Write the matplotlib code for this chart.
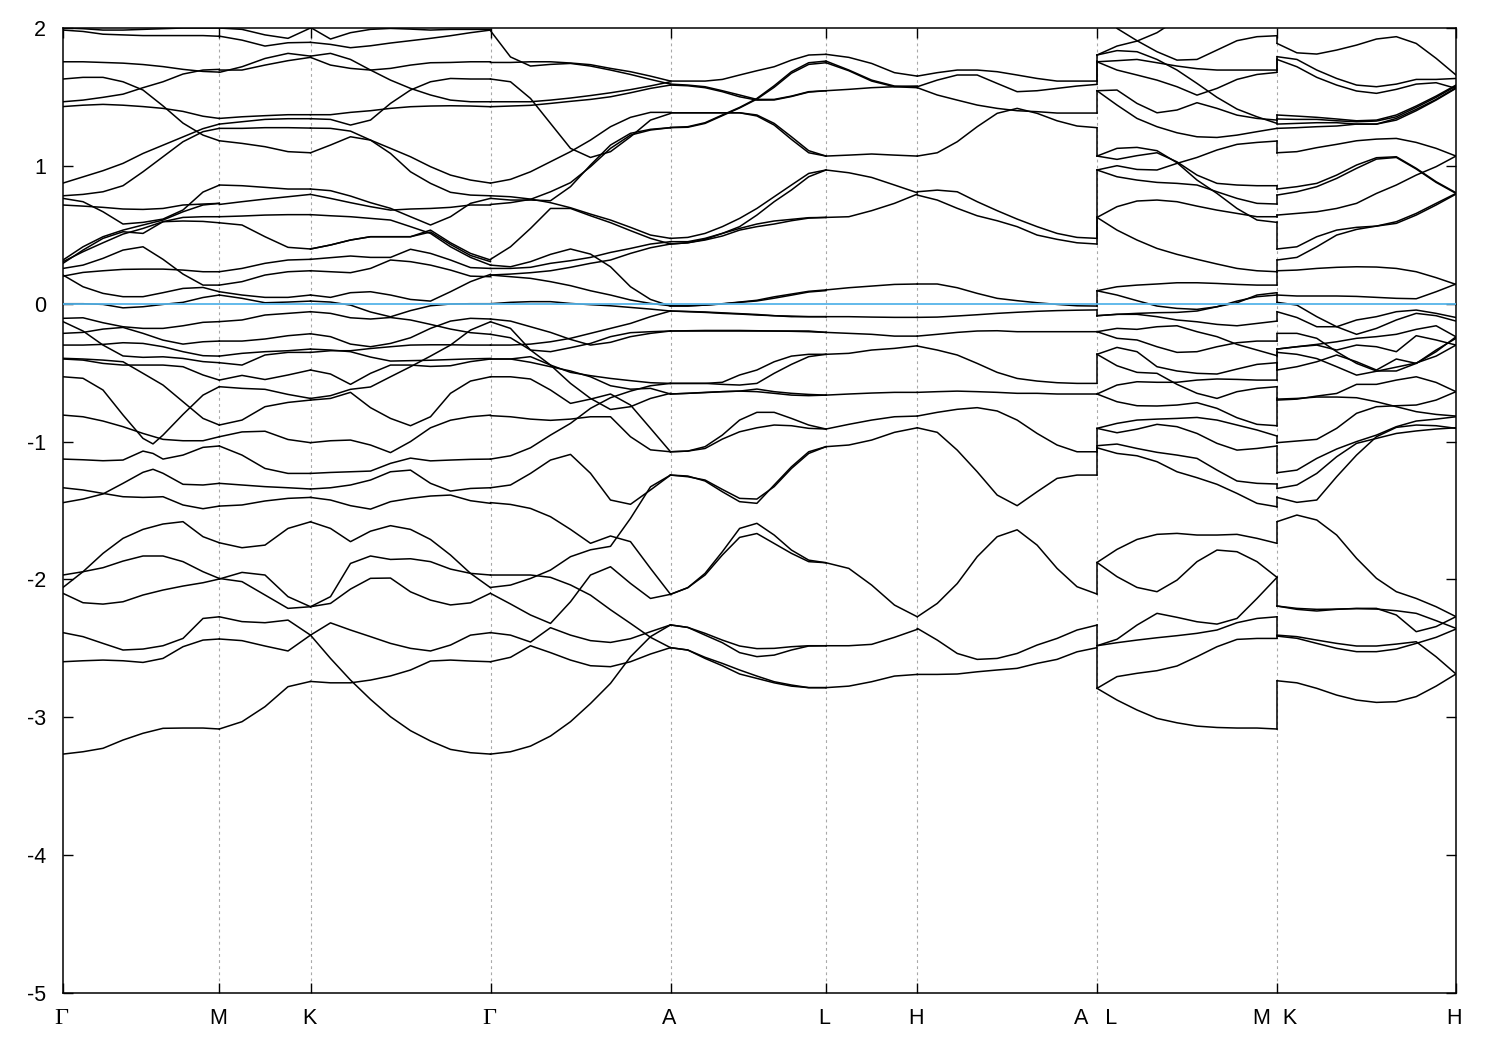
import numpy as np
import matplotlib
matplotlib.use("Agg")
import matplotlib.pyplot as plt
from matplotlib.transforms import ScaledTranslation

nan = float("nan")

TICK_K = [0, 156.3, 247.5, 427.5, 607.5, 763, 854.3, 1034, 1214, 1393]
TICK_LABELS = ["Γ", "M", "K", "Γ", "A", "L", "H", "A   L", "M  K", "H"]
Y_TICKS = [-5, -4, -3, -2, -1, 0, 1, 2]

K_GM = [0, 20, 40, 60, 80, 100, 120, 140, 156.3]
K_GM_FINE = [0, 20, 40, 60, 80, 90, 100, 120, 140, 156.3]
K_MK = [156.3, 179, 202, 225, 247.5]
K_KG = np.linspace(247.5, 427.5, 10)
K_GA = np.linspace(427.5, 607.5, 10)
K_AL = np.linspace(607.5, 763, 10)
K_LH = np.linspace(763, 854.3, 5)
K_HA = np.linspace(854.3, 1034, 10)
K_LM = np.linspace(1034, 1214, 10)
K_KH = np.linspace(1214, 1393, 10)

BANDS_GM = [
 [1.985,1.975,1.955,1.95,1.945,1.945,1.945,1.945,1.94],
 [2.0,1.995,1.985,1.985,1.99,1.995,2.0,2.0,2.0],
 [1.755,1.755,1.75,1.745,1.735,1.72,1.70,1.685,1.68],
 [1.465,1.477,1.497,1.52,1.567,1.61,1.666,1.695,1.70],
 [1.63,1.642,1.642,1.61,1.55,1.435,1.31,1.223,1.182],
 [1.43,1.44,1.446,1.44,1.43,1.417,1.395,1.36,1.344],
 [.875,.92,.965,1.018,1.09,1.15,1.21,1.27,1.303],
 [.783,.793,.812,.856,.957,1.066,1.175,1.248,1.272],
 [.764,.74,.667,.578,.59,.614,.68,.81,.86],
 [.716,.708,.699,.687,.684,.691,.716,.723,.728],
 [.293,.389,.474,.522,.51,.595,.626,.631,.631],
 [.305,.377,.442,.505,.546,.595,.6,.597,.587],
 [.317,.413,.486,.534,.571,.607,.667,.716,.728],
 [.256,.28,.329,.389,.413,.322,.215,.135,.135],
 [.2,.227,.239,.249,.251,.251,.244,.232,.232],
 [.208,.123,.075,.051,.051,.08,.111,.118,.087],
 [0,0,-.005,-.03,-.022,-.005,.01,.045,.063],
 [-.106,-.102,-.138,-.167,-.179,-.179,-.16,-.135,-.13],
 [-.13,-.198,-.3,-.379,-.389,-.385,-.397,-.42,-.428],
 [-.215,-.208,-.184,-.172,-.215,-.264,-.293,-.276,-.271],
 [-.3,-.3,-.295,-.283,-.288,-.312,-.348,-.377,-.38],
 [-.401,-.409,-.433,-.445,-.445,-.445,-.457,-.517,-.554],
 [-.396,-.401,-.409,-.421,-.505,-.59,-.711,-.832,-.88],
 [-.808,-.82,-.851,-.892,-.941,-.984,-.994,-.994,-.965],
 [-2.058,-1.944,-1.811,-1.702,-1.637,-1.598,-1.581,-1.69,-1.734],
 [-1.968,-1.944,-1.915,-1.867,-1.83,-1.83,-1.871,-1.944,-1.993],
 [-2.101,-2.169,-2.179,-2.162,-2.113,-2.077,-2.048,-2.024,-1.997],
 [-2.386,-2.415,-2.464,-2.512,-2.505,-2.481,-2.428,-2.283,-2.271],
 [-2.597,-2.59,-2.585,-2.59,-2.602,-2.573,-2.488,-2.44,-2.432],
 [-3.267,-3.25,-3.225,-3.165,-3.116,-3.08,-3.078,-3.078,-3.085],
]
BANDS_GM_FINE = [
 [-.53,-.541,-.626,-.807,-.977,-1.017,-.953,-.803,-.663,-.602],
 [-1.127,-1.132,-1.139,-1.134,-1.069,-1.086,-1.127,-1.098,-1.042,-1.032],
 [-1.335,-1.351,-1.376,-1.4,-1.405,-1.403,-1.4,-1.46,-1.487,-1.468],
 [-1.443,-1.417,-1.38,-1.303,-1.223,-1.201,-1.23,-1.31,-1.315,-1.303],
]
BANDS_MK = [
 [2.0,1.99,1.95,1.925,2.0],
 [1.941,1.912,1.869,1.893,1.896],
 [1.678,1.719,1.779,1.816,1.796],
 [1.695,1.695,1.731,1.763,1.787],
 [1.182,1.163,1.139,1.103,1.095],
 [1.344,1.356,1.364,1.371,1.371],
 [1.303,1.32,1.337,1.342,1.342],
 [1.272,1.272,1.277,1.277,1.274],
 [.861,.856,.844,.832,.832],
 [.72,.74,.759,.776,.793],
 [.631,.636,.643,.646,.646],
 [.587,.571,.486,.409,.397],
 [.232,.256,.293,.317,.322],
 [.135,.16,.208,.232,.239],
 [.087,.063,.046,.046,.063],
 [.063,.039,.007,.012,.019],
 [-.13,-.118,-.082,-.07,-.058],
 [-.271,-.271,-.256,-.232,-.218],
 [-.38,-.36,-.348,-.341,-.329],
 [-.428,-.445,-.372,-.353,-.353],
 [-.554,-.52,-.55,-.517,-.481],
 [-.602,-.614,-.621,-.658,-.687],
 [-.88,-.844,-.747,-.716,-.699],
 [-.965,-.93,-.925,-.985,-1.008],
 [-1.032,-1.098,-1.195,-1.231,-1.231],
 [-1.468,-1.46,-1.431,-1.412,-1.405],
 [-1.303,-1.315,-1.327,-1.335,-1.344],
 [-1.734,-1.77,-1.751,-1.63,-1.582],
 [-1.993,-2.016,-2.113,-2.21,-2.198],
 [-1.997,-1.949,-1.968,-2.125,-2.198],
 [-2.271,-2.306,-2.314,-2.295,-2.404],
 [-2.432,-2.444,-2.483,-2.519,-2.404],
 [-3.085,-3.032,-2.923,-2.778,-2.74],
]
BANDS_KG = [
 [2.004,1.92,1.966,1.99,1.997,1.992,1.985,1.99,1.99,1.99],
 [1.896,1.881,1.857,1.871,1.891,1.908,1.925,1.944,1.966,1.985],
 [1.796,1.816,1.772,1.695,1.622,1.562,1.514,1.477,1.465,1.465],
 [1.787,1.731,1.707,1.695,1.707,1.731,1.748,1.75,1.755,1.755],
 [1.095,1.151,1.211,1.187,1.09,.957,.873,.808,.788,.783],
 [1.371,1.371,1.388,1.4,1.417,1.429,1.434,1.436,1.434,1.429],
 [1.342,1.337,1.296,1.332,1.453,1.55,1.61,1.634,1.63,1.63],
 [1.274,1.272,1.252,1.187,1.127,1.066,.994,.933,.897,.875],
 [.832,.82,.781,.733,.692,.631,.571,.631,.728,.764],
 [.793,.764,.733,.704,.679,.687,.691,.699,.716,.716],
 [.646,.638,.631,.619,.607,.559,.51,.413,.336,.28],
 [.397,.426,.462,.486,.486,.486,.534,.442,.365,.317],
 [.397,.426,.462,.486,.486,.486,.52,.43,.35,.305],
 [.322,.334,.346,.336,.336,.395,.365,.317,.262,.256],
 [.239,.232,.225,.256,.317,.305,.28,.244,.2,.196],
 [.063,.046,.08,.087,.063,.031,.019,.087,.16,.213],
 [.019,.012,-.01,-.06,-.095,-.05,-.015,-.002,0,0],
 [-.058,-.07,-.102,-.111,-.1,-.118,-.15,-.184,-.21,-.222],
 [-.218,-.239,-.293,-.312,-.288,-.247,-.179,-.126,-.106,-.111],
 [-.329,-.336,-.348,-.387,-.416,-.413,-.41,-.405,-.4,-.397],
 [-.353,-.341,-.341,-.325,-.312,-.3,-.298,-.298,-.3,-.3],
 [-.481,-.51,-.585,-.505,-.445,-.445,-.455,-.45,-.42,-.401],
 [-.687,-.667,-.621,-.604,-.53,-.457,-.38,-.3,-.191,-.131],
 [-.699,-.687,-.643,-.754,-.832,-.885,-.82,-.65,-.561,-.53],
 [-1.008,-.994,-.989,-1.025,-1.08,-1.0,-.90,-.845,-.82,-.808],
 [-1.231,-1.224,-1.219,-1.214,-1.158,-1.12,-1.14,-1.134,-1.129,-1.127],
 [-1.344,-1.335,-1.315,-1.279,-1.219,-1.207,-1.303,-1.359,-1.34,-1.335],
 [-1.405,-1.424,-1.465,-1.49,-1.436,-1.412,-1.395,-1.388,-1.429,-1.448],
 [-1.582,-1.63,-1.726,-1.65,-1.61,-1.637,-1.71,-1.823,-1.956,-2.06],
 [-2.198,-2.174,-2.07,-1.992,-1.99,-2.09,-2.15,-2.185,-2.17,-2.1],
 [-2.198,-2.125,-1.884,-1.83,-1.855,-1.85,-1.871,-1.925,-1.956,-1.968],
 [-2.404,-2.315,-2.367,-2.415,-2.464,-2.5,-2.519,-2.476,-2.404,-2.386],
 [-2.404,-2.573,-2.73,-2.87,-2.996,-3.097,-3.172,-3.233,-3.257,-3.267],
 [-2.74,-2.75,-2.75,-2.73,-2.7,-2.657,-2.592,-2.585,-2.592,-2.597],
]
BANDS_GA = [
 [1.98,1.79,1.724,1.736,1.743,1.724,1.695,1.663,1.627,1.593],
 [1.75,1.75,1.755,1.755,1.746,1.734,1.707,1.683,1.651,1.615],
 [1.465,1.465,1.465,1.477,1.492,1.51,1.53,1.553,1.58,1.61],
 [1.429,1.434,1.439,1.453,1.468,1.482,1.501,1.53,1.562,1.586],
 [1.63,1.61,1.489,1.308,1.127,1.061,1.103,1.211,1.332,1.38],
 [.875,.902,.957,1.03,1.103,1.187,1.284,1.352,1.388,1.388],
 [.72,.733,.757,.812,.878,.994,1.127,1.223,1.26,1.277],
 [.764,.752,.752,.747,.849,1.006,1.151,1.236,1.265,1.277],
 [.783,.776,.759,.733,.696,.65,.607,.554,.498,.474],
 [.322,.413,.546,.691,.691,.638,.588,.53,.474,.433],
 [.28,.268,.305,.358,.397,.36,.268,.123,.031,-.017],
 [.256,.256,.264,.293,.312,.336,.372,.401,.433,.45],
 [.208,.215,.225,.239,.264,.293,.317,.365,.406,.433],
 [.208,.196,.184,.16,.131,.094,.063,.027,.002,-.015],
 [0,.01,.015,.015,.002,-.007,-.015,-.027,-.039,-.053],
 [-.111,-.126,-.167,-.208,-.259,-.3,-.28,-.239,-.215,-.198],
 [-.222,-.247,-.336,-.348,-.319,-.288,-.239,-.21,-.203,-.198],
 [-.3,-.3,-.293,-.276,-.251,-.215,-.179,-.143,-.094,-.053],
 [-.131,-.179,-.336,-.445,-.578,-.687,-.767,-.747,-.687,-.65],
 [-.401,-.401,-.384,-.445,-.498,-.522,-.542,-.558,-.573,-.578],
 [-.401,-.401,-.425,-.457,-.488,-.53,-.595,-.62,-.614,-.655],
 [-.53,-.53,-.546,-.626,-.723,-.692,-.655,-.735,-.904,-1.074],
 [-.812,-.82,-.837,-.846,-.837,-.82,-.82,-.965,-1.06,-1.074],
 [-1.127,-1.103,-1.045,-.953,-.868,-.759,-.682,-.634,-.595,-.578],
 [-1.335,-1.315,-1.231,-1.134,-1.093,-1.23,-1.424,-1.455,-1.351,-1.243],
 [-1.443,-1.456,-1.485,-1.545,-1.637,-1.738,-1.685,-1.726,-1.92,-2.108],
 [-1.968,-1.968,-1.968,-1.985,-2.04,-2.114,-2.22,-2.319,-2.42,-2.495],
 [-2.058,-2.041,-1.993,-1.932,-1.835,-1.785,-1.76,-1.557,-1.328,-1.243],
 [-2.101,-2.178,-2.258,-2.319,-2.162,-1.968,-1.908,-2.029,-2.138,-2.108],
 [-2.386,-2.404,-2.454,-2.35,-2.404,-2.444,-2.457,-2.43,-2.379,-2.33],
 [-2.597,-2.565,-2.481,-2.531,-2.585,-2.626,-2.633,-2.597,-2.541,-2.495],
 [-3.267,-3.25,-3.209,-3.136,-3.032,-2.9,-2.754,-2.561,-2.415,-2.33],
]
BANDS_AL = [
 [1.615,1.615,1.615,1.627,1.659,1.69,1.719,1.767,1.804,1.809],
 [1.593,1.586,1.574,1.545,1.514,1.482,1.482,1.506,1.538,1.545],
 [1.586,1.581,1.567,1.538,1.501,1.477,1.478,1.503,1.535,1.545],
 [1.279,1.284,1.313,1.369,1.424,1.489,1.581,1.683,1.748,1.76],
 [1.277,1.28,1.308,1.364,1.42,1.484,1.57,1.672,1.736,1.748],
 [1.385,1.385,1.385,1.385,1.385,1.369,1.308,1.211,1.11,1.071],
 [1.385,1.385,1.385,1.385,1.385,1.362,1.296,1.192,1.095,1.071],
 [.474,.481,.51,.559,.619,.691,.776,.861,.945,.97],
 [.45,.45,.474,.51,.559,.643,.74,.825,.921,.97],
 [.433,.442,.467,.51,.546,.578,.6,.612,.624,.626],
 [.433,.442,.462,.491,.534,.559,.578,.602,.621,.626],
 [-.017,-.017,-.01,0,.012,.025,.05,.07,.09,.1],
 [-.015,-.015,-.01,-.002,.01,.02,.04,.062,.085,.095],
 [-.053,-.058,-.063,-.07,-.075,-.082,-.087,-.094,-.094,-.094],
 [-.053,-.056,-.06,-.066,-.072,-.078,-.087,-.09,-.094,-.094],
 [-.198,-.198,-.198,-.198,-.198,-.198,-.198,-.198,-.198,-.208],
 [-.198,-.196,-.194,-.194,-.194,-.196,-.198,-.2,-.203,-.208],
 [-.578,-.578,-.578,-.57,-.517,-.481,-.421,-.38,-.367,-.367],
 [-.578,-.578,-.578,-.585,-.59,-.578,-.505,-.44,-.384,-.367],
 [-.655,-.65,-.643,-.638,-.634,-.619,-.638,-.65,-.658,-.663],
 [-.655,-.65,-.645,-.638,-.634,-.638,-.65,-.663,-.667,-.663],
 [-1.074,-1.069,-1.037,-.953,-.844,-.788,-.788,-.832,-.88,-.909],
 [-1.074,-1.069,-1.05,-.982,-.929,-.9,-.88,-.885,-.904,-.909],
 [-1.243,-1.25,-1.286,-1.364,-1.436,-1.448,-1.315,-1.183,-1.074,-1.037],
 [-1.243,-1.255,-1.279,-1.347,-1.412,-1.417,-1.327,-1.195,-1.086,-1.037],
 [-2.108,-2.06,-1.956,-1.799,-1.63,-1.593,-1.678,-1.787,-1.86,-1.879],
 [-2.108,-2.06,-1.968,-1.823,-1.695,-1.667,-1.739,-1.811,-1.871,-1.879],
 [-2.33,-2.348,-2.404,-2.459,-2.531,-2.56,-2.549,-2.512,-2.483,-2.481],
 [-2.33,-2.348,-2.391,-2.44,-2.483,-2.502,-2.5,-2.488,-2.481,-2.481],
 [-2.495,-2.512,-2.565,-2.609,-2.657,-2.701,-2.742,-2.766,-2.785,-2.785],
 [-2.495,-2.512,-2.573,-2.626,-2.686,-2.718,-2.75,-2.774,-2.785,-2.785],
]
BANDS_LH = [
 [1.809,1.787,1.743,1.676,1.651],
 [1.76,1.695,1.622,1.579,1.574],
 [1.748,1.69,1.615,1.574,1.567],
 [1.545,1.555,1.567,1.574,1.579],
 [1.071,1.078,1.086,1.078,1.071],
 [.97,.95,.916,.861,.805],
 [.626,.631,.675,.728,.795],
 [.1,.116,.128,.14,.143],
 [-.094,-.094,-.097,-.099,-.099],
 [-.208,-.215,-.222,-.235,-.235],
 [-.367,-.36,-.336,-.324,-.305],
 [-.663,-.655,-.648,-.643,-.643],
 [-.909,-.875,-.844,-.82,-.815],
 [-1.037,-1.025,-.989,-.933,-.9],
 [-1.879,-1.92,-2.041,-2.186,-2.271],
 [-2.481,-2.481,-2.471,-2.42,-2.362],
 [-2.785,-2.774,-2.742,-2.701,-2.689],
]
BANDS_HA = [
 [1.651,1.676,1.695,1.695,1.683,1.659,1.634,1.615,1.615,1.615],
 [1.574,1.622,1.659,1.659,1.598,1.538,1.545,1.562,1.579,1.591],
 [1.567,1.514,1.477,1.441,1.417,1.4,1.393,1.383,1.383,1.383],
 [1.071,1.095,1.175,1.284,1.381,1.417,1.381,1.327,1.289,1.277],
 [.812,.824,.812,.74,.675,.614,.559,.51,.481,.474],
 [.788,.752,.692,.638,.602,.559,.498,.467,.442,.433],
 [.143,.143,.116,.075,.039,.022,.007,-.005,-.015,-.017],
 [-.099,-.097,-.089,-.08,-.07,-.062,-.055,-.05,-.047,-.045],
 [-.235,-.222,-.208,-.198,-.196,-.203,-.203,-.203,-.203,-.203],
 [-.307,-.336,-.372,-.433,-.498,-.542,-.561,-.573,-.578,-.578],
 [-.643,-.638,-.634,-.638,-.643,-.65,-.65,-.655,-.655,-.655],
 [-.815,-.788,-.766,-.754,-.778,-.844,-.941,-1.025,-1.074,-1.074],
 [-.9,-.933,-1.062,-1.219,-1.388,-1.465,-1.364,-1.267,-1.243,-1.243],
 [-2.271,-2.174,-2.03,-1.835,-1.69,-1.64,-1.751,-1.92,-2.053,-2.106],
 [-2.355,-2.44,-2.537,-2.58,-2.573,-2.537,-2.476,-2.428,-2.367,-2.331],
 [-2.689,-2.689,-2.686,-2.67,-2.657,-2.645,-2.609,-2.58,-2.525,-2.495],
]
BANDS_LM = [
 [1.804,1.869,1.905,1.966,2.06,nan,nan,nan,nan,nan],
 [nan,1.997,1.908,1.828,1.767,1.772,1.84,1.908,1.937,1.944],
 [1.804,1.836,1.828,1.772,1.695,1.598,1.497,1.412,1.356,1.308],
 [1.755,1.763,1.772,1.748,1.724,1.705,1.695,1.695,1.695,1.695],
 [1.755,1.695,1.659,1.622,1.574,1.513,1.562,1.627,1.663,1.678],
 [1.545,1.55,1.453,1.385,1.405,1.458,1.417,1.368,1.344,1.332],
 [1.545,1.441,1.344,1.284,1.24,1.211,1.206,1.223,1.248,1.272],
 [1.071,1.047,1.074,1.095,1.029,.933,.873,.861,.856,.856],
 [1.071,1.127,1.134,1.11,1.023,.897,.8,.691,.607,.59],
 [.97,1.001,.974,.97,1.018,1.061,1.115,1.156,1.17,1.18],
 [.97,.921,.897,.88,.873,.861,.812,.764,.728,.723],
 [.626,.704,.745,.752,.74,.708,.679,.655,.631,.631],
 [.626,.534,.462,.401,.358,.322,.288,.256,.239,.232],
 [.094,.123,.135,.143,.152,.152,.147,.14,.135,.135],
 [.094,.063,.022,-.017,-.034,-.041,-.022,.007,.063,.08],
 [-.087,-.077,-.07,-.065,-.063,-.053,-.022,.019,.051,.063],
 [-.087,-.077,-.077,-.094,-.118,-.131,-.15,-.16,-.143,-.126],
 [-.203,-.179,-.186,-.167,-.16,-.203,-.239,-.295,-.336,-.377],
 [-.203,-.251,-.263,-.312,-.353,-.348,-.312,-.283,-.271,-.271],
 [-.367,-.317,-.348,-.457,-.488,-.505,-.51,-.474,-.44,-.428],
 [-.367,-.45,-.498,-.505,-.585,-.65,-.687,-.638,-.614,-.602],
 [-.655,-.59,-.566,-.57,-.57,-.554,-.546,-.549,-.554,-.554],
 [-.655,-.711,-.74,-.742,-.735,-.718,-.759,-.827,-.875,-.885],
 [-.904,-.868,-.844,-.837,-.832,-.825,-.844,-.88,-.916,-.96],
 [-.904,-.936,-.91,-.875,-.892,-.941,-1.013,-1.062,-1.05,-1.032],
 [-1.03,-1.018,-1.05,-1.078,-1.098,-1.122,-1.207,-1.286,-1.303,-1.308],
 [-1.045,-1.086,-1.103,-1.146,-1.219,-1.262,-1.31,-1.376,-1.448,-1.473],
 [-1.877,-1.782,-1.71,-1.673,-1.666,-1.678,-1.678,-1.673,-1.702,-1.738],
 [-1.877,-1.98,-2.058,-2.089,-2.005,-1.871,-1.787,-1.799,-1.871,-1.985],
 [-2.481,-2.434,-2.331,-2.246,-2.275,-2.307,-2.324,-2.283,-2.138,-1.985],
 [-2.481,-2.459,-2.44,-2.423,-2.408,-2.391,-2.367,-2.314,-2.283,-2.271],
 [-2.79,-2.705,-2.681,-2.662,-2.628,-2.56,-2.488,-2.435,-2.428,-2.428],
 [-2.79,-2.875,-2.947,-3.008,-3.04,-3.064,-3.074,-3.078,-3.078,-3.085],
]
BANDS_KH = [
 [1.888,1.82,1.811,1.84,1.876,1.92,1.937,1.888,1.78,1.659],
 [1.792,1.772,1.695,1.634,1.586,1.574,1.593,1.627,1.627,1.634],
 [1.772,1.719,1.642,1.586,1.543,1.526,1.555,1.593,1.603,1.562],
 [1.369,1.361,1.352,1.34,1.327,1.332,1.369,1.434,1.506,1.586],
 [1.34,1.337,1.337,1.327,1.32,1.325,1.356,1.424,1.497,1.579],
 [1.303,1.308,1.313,1.313,1.303,1.303,1.344,1.41,1.482,1.567],
 [1.272,1.277,1.284,1.289,1.303,1.303,1.332,1.4,1.477,1.562],
 [1.095,1.103,1.132,1.156,1.182,1.194,1.199,1.17,1.127,1.071],
 [.832,.849,.873,.933,1.006,1.059,1.066,.982,.885,.805],
 [.788,.812,.849,.909,.982,1.049,1.061,.977,.88,.8],
 [.643,.655,.667,.691,.728,.8,.861,.933,.994,1.071],
 [.397,.413,.486,.534,.554,.563,.595,.655,.728,.8],
 [.317,.336,.413,.498,.539,.563,.583,.643,.716,.795],
 [.239,.244,.256,.264,.268,.266,.256,.232,.189,.14],
 [.063,.056,.056,.056,.053,.046,.039,.036,.087,.143],
 [.01,-.01,-.094,-.167,-.222,-.179,-.118,-.07,-.087,-.126],
 [-.058,-.1,-.167,-.167,-.118,-.094,-.058,-.046,-.07,-.1],
 [-.215,-.215,-.251,-.348,-.433,-.488,-.488,-.433,-.336,-.251],
 [-.329,-.312,-.295,-.276,-.251,-.239,-.222,-.186,-.16,-.24],
 [-.329,-.312,-.3,-.336,-.3,-.312,-.348,-.232,-.263,-.3],
 [-.481,-.457,-.421,-.372,-.421,-.481,-.401,-.433,-.348,-.24],
 [-.353,-.367,-.398,-.457,-.518,-.49,-.46,-.43,-.38,-.3],
 [-.699,-.692,-.67,-.651,-.585,-.585,-.554,-.53,-.571,-.638],
 [-.692,-.687,-.677,-.677,-.682,-.711,-.747,-.783,-.803,-.815],
 [-1.008,-.996,-.984,-.904,-.795,-.747,-.74,-.735,-.699,-.638],
 [-1.226,-1.207,-1.122,-1.054,-1.0,-.953,-.892,-.851,-.837,-.82],
 [-1.34,-1.315,-1.231,-1.11,-1.013,-.977,-.941,-.923,-.909,-.9],
 [-1.405,-1.441,-1.424,-1.255,-1.098,-.965,-.897,-.88,-.885,-.904],
 [-1.581,-1.533,-1.569,-1.678,-1.847,-1.992,-2.089,-2.138,-2.198,-2.27],
 [-2.193,-2.217,-2.229,-2.217,-2.21,-2.21,-2.258,-2.379,-2.342,-2.27],
 [-2.193,-2.21,-2.217,-2.215,-2.212,-2.215,-2.227,-2.246,-2.299,-2.355],
 [-2.404,-2.415,-2.44,-2.464,-2.483,-2.483,-2.469,-2.452,-2.561,-2.686],
 [-2.411,-2.427,-2.464,-2.5,-2.524,-2.524,-2.505,-2.464,-2.42,-2.36],
 [-2.735,-2.75,-2.79,-2.839,-2.875,-2.892,-2.887,-2.85,-2.774,-2.686],
]
JUMP_AL = [(1.615,1.806),(1.591,1.76),(1.383,1.545),(1.277,1.071),(.474,.97),(.433,.626),
           (-.017,.095),(-.045,-.087),(-.578,-.367),(-1.074,-.909),(-1.243,-1.037),
           (-2.106,-1.879),(-2.331,-2.481),(-2.495,-2.785)]
JUMP_MK = [(1.944,1.888),(1.695,1.792),(1.678,1.772),(1.332,1.369),(1.308,1.34),(1.18,1.095),
           (.856,.832),(.723,.788),(.631,.643),(.59,.397),(.232,.317),(.135,.239),(.08,.063),(.063,.01),
           (-.126,-.058),(-.271,-.218),(-.377,-.329),(-.428,-.481),(-.554,-.353),(-.602,-.699),
           (-.885,-.687),(-.96,-1.008),(-1.032,-1.226),(-1.308,-1.34),(-1.473,-1.405),(-1.738,-1.581),
           (-1.985,-2.193),(-2.271,-2.404),(-2.428,-2.411),(-3.085,-2.735)]

LINE = dict(color="black", lw=1.1, solid_joinstyle="round", zorder=3)
SEGMENTS = [(K_GM, BANDS_GM), (K_GM_FINE, BANDS_GM_FINE), (K_MK, BANDS_MK), (K_KG, BANDS_KG),
            (K_GA, BANDS_GA), (K_AL, BANDS_AL), (K_LH, BANDS_LH), (K_HA, BANDS_HA),
            (K_LM, BANDS_LM), (K_KH, BANDS_KH)]

plt.rcParams["font.family"] = ["Liberation Sans", "DejaVu Sans"]
fig = plt.figure(figsize=(15, 10.5), dpi=100)
ax = fig.add_axes([63 / 1500, 1 - 993 / 1050, 1393 / 1500, 965 / 1050])

for x in TICK_K[1:-1]:
    ax.axvline(x, color="#a8a8a8", lw=0.8, ls=(0, (2.5, 3)), zorder=1)

for knots, bands in SEGMENTS:
    for band in bands:
        ax.plot(knots, band, **LINE)
for a, b in JUMP_AL:
    ax.plot([TICK_K[7], TICK_K[7]], [a, b], **LINE)
for a, b in JUMP_MK:
    ax.plot([TICK_K[8], TICK_K[8]], [a, b], **LINE)

ax.axhline(0, color="#56b4e9", lw=1.3, zorder=4)

ax.set_xlim(TICK_K[0], TICK_K[-1])
ax.set_ylim(-5, 2)
ax.set_xticks(TICK_K)
ax.set_xticklabels(TICK_LABELS, fontsize=15.5)
ax.set_yticks(Y_TICKS)
ax.set_yticklabels([str(v) for v in Y_TICKS], fontsize=15.5)
ax.tick_params(axis="both", direction="in", length=7.5, width=1.0, top=True, right=True)
ax.tick_params(axis="x", pad=11)
ax.tick_params(axis="y", pad=12)
shift = ScaledTranslation(-1.5 / 100, 0, fig.dpi_scale_trans)
for lab, txt in zip(ax.get_xticklabels(), TICK_LABELS):
    lab.set_transform(lab.get_transform() + shift)
    if txt == "Γ":
        lab.set_family("Liberation Serif")
        lab.set_fontsize(17.5)
for s in ax.spines.values():
    s.set_linewidth(1.1)

fig.savefig("out.png", dpi=100)
